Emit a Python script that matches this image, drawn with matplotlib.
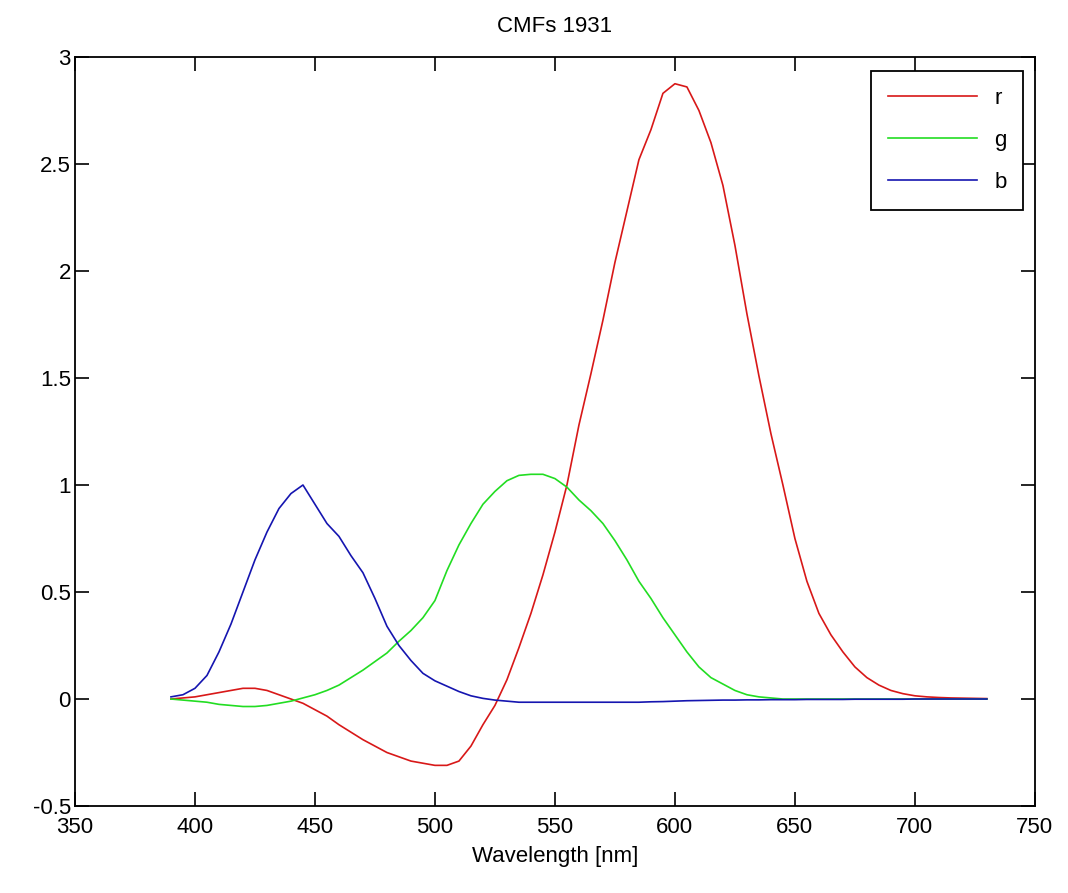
import numpy as np
import matplotlib
matplotlib.use('Agg')
import matplotlib.pyplot as plt

plt.rcParams['font.family'] = ['Liberation Sans', 'DejaVu Sans']

# wavelengths 390..730 nm, 5 nm steps
wavelength = list(range(390, 735, 5))

r_bar = [0.0, 0.005, 0.01, 0.02, 0.03, 0.04, 0.05, 0.05, 0.04, 0.02,
         0.0, -0.02, -0.05, -0.08, -0.12, -0.155, -0.19, -0.22, -0.25, -0.27,
         -0.29, -0.30, -0.31, -0.31, -0.29, -0.22, -0.12, -0.03, 0.09, 0.24,
         0.40, 0.58, 0.78, 1.00, 1.28, 1.52, 1.77, 2.04, 2.28, 2.52,
         2.66, 2.83, 2.875, 2.86, 2.75, 2.60, 2.40, 2.12, 1.80, 1.51,
         1.24, 1.00, 0.75, 0.55, 0.40, 0.30, 0.22, 0.15, 0.10, 0.065,
         0.04, 0.025, 0.015, 0.01, 0.007, 0.005, 0.004, 0.003, 0.002]

g_bar = [0.0, -0.005, -0.01, -0.015, -0.025, -0.03, -0.035, -0.035, -0.03, -0.02,
         -0.01, 0.005, 0.02, 0.04, 0.065, 0.10, 0.135, 0.175, 0.215, 0.27,
         0.32, 0.38, 0.46, 0.60, 0.72, 0.82, 0.91, 0.97, 1.02, 1.045,
         1.05, 1.05, 1.03, 0.99, 0.93, 0.88, 0.82, 0.74, 0.65, 0.55,
         0.47, 0.38, 0.30, 0.22, 0.15, 0.10, 0.07, 0.04, 0.02, 0.01,
         0.005, 0.0, 0.0, 0.0, 0.0, 0.0, 0.0, 0.0, 0.0, 0.0,
         0.0, 0.0, 0.0, 0.0, 0.0, 0.0, 0.0, 0.0, 0.0]

b_bar = [0.01, 0.02, 0.05, 0.11, 0.22, 0.35, 0.50, 0.65, 0.78, 0.89,
         0.96, 1.00, 0.91, 0.82, 0.76, 0.67, 0.59, 0.47, 0.34, 0.25,
         0.18, 0.12, 0.085, 0.06, 0.035, 0.015, 0.003, -0.005, -0.01, -0.015,
         -0.015, -0.015, -0.015, -0.015, -0.015, -0.015, -0.015, -0.015, -0.015, -0.015,
         -0.013, -0.012, -0.01, -0.008, -0.007, -0.006, -0.005, -0.005, -0.004, -0.004,
         -0.003, -0.003, -0.003, -0.002, -0.002, -0.002, -0.002, -0.001, -0.001, -0.001,
         -0.001, -0.001, 0.0, 0.0, 0.0, 0.0, 0.0, 0.0, 0.0]

fig = plt.figure(figsize=(10.68, 8.93), dpi=100)
ax = fig.add_axes([0.0702, 0.0974, 0.8988, 0.8388])

ax.plot(wavelength, r_bar, color='#d81818', lw=1.2, label='r')
ax.plot(wavelength, g_bar, color='#22dd22', lw=1.2, label='g')
ax.plot(wavelength, b_bar, color='#1515b0', lw=1.2, label='b')

ax.set_xlim(350, 750)
ax.set_ylim(-0.5, 3)
ax.set_xticks(range(350, 751, 50))
ax.set_yticks([-0.5, 0, 0.5, 1, 1.5, 2, 2.5, 3])
ax.set_yticklabels(['-0.5', '0', '0.5', '1', '1.5', '2', '2.5', '3'])
ax.tick_params(direction='in', length=10, width=1.2, top=True, right=True,
               labelsize=16)
ax.tick_params(axis='x', pad=8)
ax.tick_params(axis='y', pad=3)
for s in ax.spines.values():
    s.set_linewidth(1.3)

ax.set_title('CMFs 1931', fontsize=16, pad=18)
ax.set_xlabel('Wavelength [nm]', fontsize=16, labelpad=6)

leg = ax.legend(loc='upper right', fontsize=16, fancybox=False, framealpha=1,
                edgecolor='black', handlelength=4.0, labelspacing=0.95,
                borderpad=0.75, borderaxespad=0.0, bbox_to_anchor=(0.988, 0.981))
leg.get_frame().set_linewidth(1.3)

fig.savefig('out.png', dpi=100)
